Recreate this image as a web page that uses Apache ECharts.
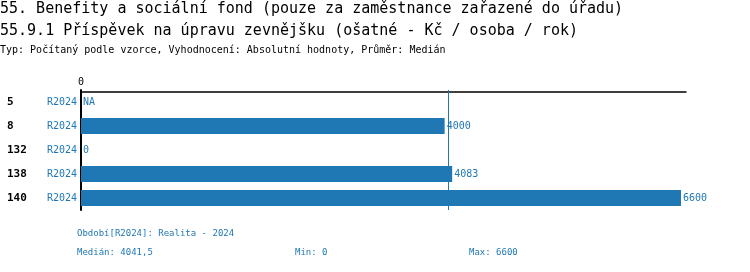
<!DOCTYPE html>
<html><head><meta charset="utf-8">
<script src="https://cdn.jsdelivr.net/npm/echarts@6/dist/echarts.min.js"></script>
<style>html,body{margin:0;padding:0;background:#fff}#c{width:750px;height:272px}</style>
</head><body><div id="c"></div>
<script>
const categories = ['5', '8', '132', '138', '140'];
const periods = ['R2024', 'R2024', 'R2024', 'R2024', 'R2024'];
const values = [null, 4000, 0, 4083, 6600];
const median = 4041.5;
const xTicks = [0];
const titleLines = [
  '55. Benefity a sociální fond (pouze za zaměstnance zařazené do úřadu)',
  '55.9.1 Příspěvek na úpravu zevnějšku (ošatné - Kč / osoba / rok)'
];
const subtitle = 'Typ: Počítaný podle vzorce, Vyhodnocení: Absolutní hodnoty, Průměr: Medián';
const footPeriod = 'Období[R2024]: Realita - 2024';
const footStats = ['Medián: 4041,5', 'Min: 0', 'Max: 6600'];

const FONT = '"DejaVu Sans Mono", monospace';
const BLUE = '#1f77b4';
const ts = (size, color) => ({fontFamily: FONT, fontSize: size, fontWeight: 'normal', color: color});
const chart = echarts.init(document.getElementById('c'), null, {renderer: 'canvas'});
chart.setOption({
  animation: false,
  textStyle: {fontFamily: FONT},
  title: [
    {text: titleLines[0], left: 0, top: 2, padding: 0, textStyle: ts(15, '#000')},
    {text: titleLines[1], left: 0, top: 24, padding: 0, textStyle: ts(15, '#000')},
    {text: subtitle, left: 0, top: 45, padding: 0, textStyle: ts(10, '#000')},
    {text: footPeriod, left: 77, top: 229, padding: 0, textStyle: ts(9, BLUE)},
    {text: footStats[0], left: 77, top: 248, padding: 0, textStyle: ts(9, BLUE)},
    {text: footStats[1], left: 295, top: 248, padding: 0, textStyle: ts(9, BLUE)},
    {text: footStats[2], left: 469, top: 248, padding: 0, textStyle: ts(9, BLUE)}
  ],
  grid: {left: 81, right: 64, top: 90, height: 120, containLabel: false},
  xAxis: {
    type: 'value', position: 'top', min: 0, max: 6655,
    offset: -2,
    axisLine: {show: true, lineStyle: {color: '#000', width: 1.5}},
    axisTick: {show: false},
    splitLine: {show: false},
    axisLabel: {
      margin: 5, fontFamily: FONT, fontSize: 10, color: '#000',
      showMaxLabel: false,
      formatter: v => xTicks.includes(v) ? String(v) : ''
    }
  },
  yAxis: {
    type: 'category', inverse: true, data: categories,
    axisLine: {show: true, lineStyle: {color: '#000', width: 2}},
    axisTick: {show: false},
    axisLabel: {
      margin: 4,
      formatter: (v, i) => '{id|' + v + '}{p|' + periods[i] + '}',
      rich: {
        id: {width: 39, align: 'left', fontFamily: FONT, fontSize: 11, fontWeight: 'bold', color: '#000'},
        p: {width: 31, align: 'right', fontFamily: FONT, fontSize: 10, color: BLUE}
      }
    }
  },
  series: [{
    type: 'bar', barWidth: 16,
    itemStyle: {color: BLUE},
    data: values.map(v => v === null ? 0 : v),
    label: {
      show: true, position: 'right', distance: 2,
      fontFamily: FONT, fontSize: 10, color: BLUE,
      formatter: p => values[p.dataIndex] === null ? 'NA' : String(values[p.dataIndex])
    },
    markLine: {
      symbol: 'none', silent: true,
      label: {show: false},
      lineStyle: {color: BLUE, width: 1, type: 'solid'},
      data: [{xAxis: median}]
    }
  }]
});
</script></body></html>
